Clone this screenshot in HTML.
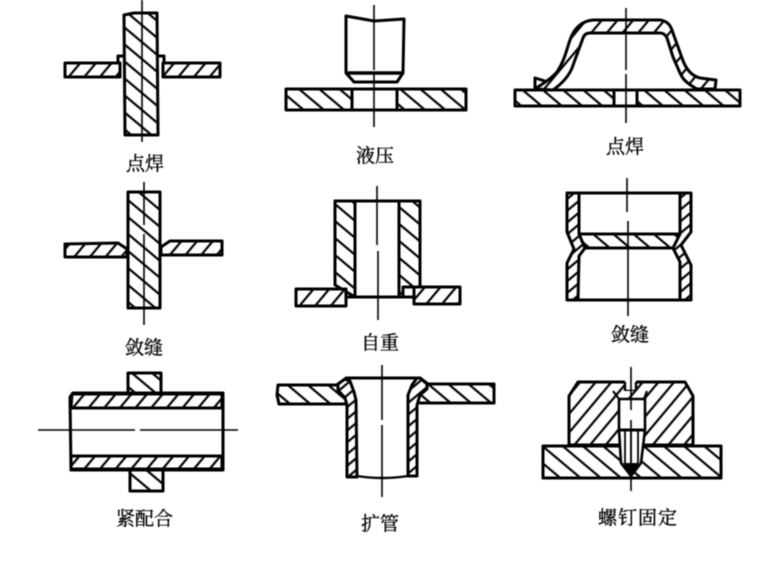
<!DOCTYPE html>
<html><head><meta charset="utf-8"><style>
html,body{margin:0;padding:0;background:#fff;width:781px;height:565px;overflow:hidden}
svg{display:block;filter:blur(.4px)}
text{font-family:"Liberation Serif","Noto Serif CJK SC",serif;font-size:19px;fill:#000;stroke:#000;stroke-width:.35}
.o{stroke:#000;stroke-width:3;fill:none;stroke-linejoin:round}
.c{stroke:#000;stroke-width:1.6;fill:none}
</style></head><body>
<svg width="781" height="565" viewBox="0 0 781 565" xmlns="http://www.w3.org/2000/svg">
<defs>
<pattern id="b" width="13" height="13" patternUnits="userSpaceOnUse" patternTransform="rotate(40)"><rect width="13" height="13" fill="#fff"/><line x1="0" y1="6" x2="13" y2="6" stroke="#000" stroke-width="2.2"/></pattern>
<pattern id="f" width="12" height="12" patternUnits="userSpaceOnUse" patternTransform="rotate(-50)"><rect width="12" height="12" fill="#fff"/><line x1="0" y1="6" x2="12" y2="6" stroke="#000" stroke-width="2.2"/></pattern>
<pattern id="s" width="9" height="9" patternUnits="userSpaceOnUse" patternTransform="rotate(-40)"><rect width="9" height="9" fill="#fff"/><line x1="0" y1="4" x2="9" y2="4" stroke="#000" stroke-width="2.2"/></pattern>
</defs>
<rect width="781" height="565" fill="#fff"/>

<!-- Fig 1 -->
<rect class="o" x="65" y="63" width="55" height="14" style="fill:url(#f)"/>
<rect class="o" x="163" y="63" width="57" height="14" style="fill:url(#f)"/>
<path class="o" d="M118 63V56H124M158 56H164V63"/>
<path class="o" d="M124 15L134 13H157L158 135H125Z" style="fill:url(#b)"/>
<path class="c" d="M142 0V142"/>
<text x="126" y="170">点焊</text>

<!-- Fig 2 -->
<path class="o" d="M346 16L374 21L404 19L403 73L397 82H354L346 73Z"/>
<path class="o" d="M347 73H403" style="stroke-width:3.4"/>
<rect class="o" x="286" y="89" width="180" height="21" style="fill:url(#b)"/>
<rect class="o" x="352" y="89" width="45" height="21" style="fill:#fff"/>
<path class="c" d="M374 5V70M374 74V127"/>
<text x="356" y="162">液压</text>

<!-- Fig 3 -->
<path class="o" d="M535 89C545 82 552 78 557 72C565 60 567 48 570 40C574 28 582 21 593 20H660C668 21 671 26 673 33L682 58C686 70 692 76 700 78L716 80L715 89H697C688 84 683 80 680 73L673 57L667 38C665 34 663 33 660 33H590C586 33 584 35 583 38L572 68C568 78 560 85 553 90Z" style="fill:url(#f)"/>
<path class="o" d="M535 89V78L545 81"/>
<rect class="o" x="515" y="90" width="225" height="16" style="fill:url(#b)"/>
<rect class="o" x="614" y="90" width="23" height="16" style="fill:#fff"/>
<path class="c" d="M626 8V70M626 74V123"/>
<text x="606" y="153">点焊</text>

<!-- Fig 4 -->
<path class="o" d="M65 244L118 243L127 249V257H65Z" style="fill:url(#f)"/>
<path class="o" d="M222 241H170L161 247V255H222Z" style="fill:url(#f)"/>
<rect class="o" x="128" y="192" width="32" height="116" style="fill:url(#b)"/>
<path class="c" d="M144 182V225M144 234V325"/>
<text x="125" y="354">敛缝</text>

<!-- Fig 5 -->
<path class="o" d="M335 201H420V287H403V297H355L335 285Z" style="fill:url(#b)"/>
<rect x="355" y="201" width="44" height="96" fill="#fff" stroke="#000" stroke-width="3"/>
<path class="o" d="M346 297H414"/>
<rect class="o" x="296" y="289" width="50" height="17" style="fill:url(#f)"/>
<rect class="o" x="414" y="287" width="46" height="17" style="fill:url(#f)"/>
<path class="c" d="M377 186V245M378 251V320"/>
<text x="361" y="349">自重</text>

<!-- Fig 6 -->
<path class="o" d="M567 193H579V233L585 248L579 256L578 300H567V263L574 249L567 232Z" style="fill:url(#s)"/>
<path class="o" d="M691 193H680V232L673 248L680 262V300H691V265L681 245L691 232Z" style="fill:url(#s)"/>
<path class="o" d="M579 193H680M578 300H680"/>
<path class="o" d="M579 234H680L673 248H585Z" style="fill:url(#b)"/>
<path class="c" d="M627 178V212M628 221V316"/>
<text x="611" y="341">敛缝</text>

<!-- Fig 7 -->
<rect class="o" x="128" y="373" width="33" height="20" style="fill:url(#b)"/>
<rect class="o" x="130" y="470" width="33" height="21" style="fill:url(#b)"/>
<path class="o" d="M73 393H223V470H71L70 397Z"/>
<path class="o" d="M72 394H222V408H71Z" style="fill:url(#f)"/>
<path class="o" d="M71 456H222V469H71Z" style="fill:url(#f)"/>
<path class="c" d="M38 430H135M140 430H238"/>
<text x="116" y="525">紧配合</text>

<!-- Fig 8 -->
<path class="o" d="M278 385H337L345 379L350 400L346 404H279L277 395Z" style="fill:url(#b)"/>
<path class="o" d="M494 384H428L420 378L414 398L417 403H494Z" style="fill:url(#b)"/>
<path d="M345 379H420L416 476H349Z" fill="#fff"/>
<path class="o" d="M345 378H420"/>
<path class="o" d="M338 384L345 379L350 381L354 392L356 400L357 477H347V405L345 398L338 390Z" style="fill:url(#s)"/>
<path class="o" d="M427 384L420 378H417L412 385L408 395V476H417V405L420 395L427 389Z" style="fill:url(#s)"/>
<path class="o" d="M357 476Q382 480 408 476" style="stroke-width:2.4"/>
<path class="c" d="M382 365V420M382 425V497"/>
<text x="361" y="530">扩管</text>

<!-- Fig 9 -->
<path class="o" d="M578 382H685L693 396V445H569V396Z" style="fill:url(#f)"/>
<rect class="o" x="543" y="446" width="178" height="32" style="fill:url(#b)"/>
<path d="M625 380H636V391H625Z" fill="#fff"/>
<path class="o" d="M625 382V391H636V382" style="stroke-width:2.4"/>
<path class="o" d="M613 391H647L644 399H619Z" style="fill:url(#f);stroke-width:0"/>
<path class="o" d="M619 399H645V430L641 463L631 476L621 463L619 430Z" style="fill:#fff;stroke-width:2.6"/>
<path class="o" d="M613 391L619 399M647 391L644 399" style="stroke-width:2.2"/>
<path class="o" d="M619 430H645" style="stroke-width:3"/>
<path class="o" d="M625 431V463M631 431V475M638 431V463" style="stroke-width:1.8"/>
<path d="M623 463L631 477L639 463Z" fill="#000"/>
<path class="c" d="M631 367V410M631 420V491"/>
<text x="598" y="524" style="letter-spacing:1px">螺钉固定</text>
</svg>
</body></html>
